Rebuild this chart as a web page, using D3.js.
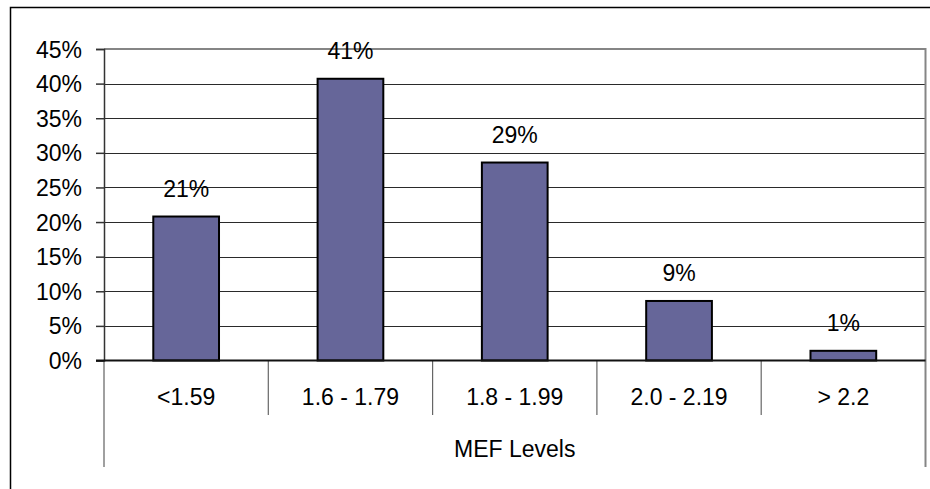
<!DOCTYPE html>
<html>
<head>
<meta charset="utf-8">
<script src="https://cdn.jsdelivr.net/npm/d3@7"></script>
<style>
  html, body { margin: 0; padding: 0; background: #fff; }
  svg { display: block; font-family: "Liberation Sans", Arial, sans-serif; }
</style>
</head>
<body>
<svg id="chart" width="930" height="489"></svg>
<script>
// Share of units in each MEF band
const categories = ["<1.59", "1.6 - 1.79", "1.8 - 1.99", "2.0 - 2.19", "> 2.2"];
const shares = [0.208, 0.407, 0.286, 0.086, 0.014];
const yTicks = [0, 0.05, 0.10, 0.15, 0.20, 0.25, 0.30, 0.35, 0.40, 0.45];
const axisTitle = "MEF Levels";

const svg = d3.select("#chart");
const plotLeft = 104, plotRight = 925.5, plotTop = 49, plotBottom = 360.5;
const fontSize = 23;

// Outer chart frame (runs off the right and bottom edges)
svg.append("rect")
  .attr("x", 10.5).attr("y", 7.5)
  .attr("width", 1000).attr("height", 1000)
  .attr("fill", "none").attr("stroke", "#000").attr("stroke-width", 1.5);

const y = d3.scaleLinear().domain([0, 0.45]).range([plotBottom, plotTop]);
const xBar = d3.scaleBand().domain(categories).range([plotLeft, plotRight])
  .paddingInner(0.6).paddingOuter(0.3);
const xCat = d3.scaleBand().domain(categories).range([plotLeft, plotRight]).padding(0);

// Horizontal gridlines
svg.append("g").selectAll("line")
  .data(yTicks.filter(t => t > 0 && t < 0.45))
  .join("line")
  .attr("x1", plotLeft).attr("x2", plotRight)
  .attr("y1", d => Math.round(y(d)) + 0.5).attr("y2", d => Math.round(y(d)) + 0.5)
  .attr("stroke", "#2a2a2a").attr("stroke-width", 1.2);

// Plot area border (top and right) plus its downward extension around the category table
svg.append("path")
  .attr("d", `M${plotLeft},${plotTop}H${plotRight}V467`)
  .attr("fill", "none").attr("stroke", "#858585").attr("stroke-width", 2);
svg.append("line")
  .attr("x1", plotLeft).attr("x2", plotLeft).attr("y1", plotBottom).attr("y2", 467)
  .attr("stroke", "#808080").attr("stroke-width", 1.5);

// Category divider ticks below the axis
svg.append("g").selectAll("line")
  .data(categories.slice(1))
  .join("line")
  .attr("x1", d => xCat(d)).attr("x2", d => xCat(d))
  .attr("y1", plotBottom).attr("y2", 415)
  .attr("stroke", "#666").attr("stroke-width", 1.2);

// Bars
svg.append("g").selectAll("rect")
  .data(shares)
  .join("rect")
  .attr("x", (d, i) => xBar(categories[i]))
  .attr("width", xBar.bandwidth())
  .attr("y", d => y(d))
  .attr("height", d => y(0) - y(d))
  .attr("fill", "#666699")
  .attr("stroke", "#000").attr("stroke-width", 2);

// Value axis: line, ticks and labels
const yAxis = d3.axisLeft(y).tickValues(yTicks).tickSize(8).tickPadding(14)
  .tickFormat(d3.format(".0%"));
const gy = svg.append("g").attr("transform", `translate(${plotLeft},0)`).call(yAxis);
gy.select(".domain").attr("stroke", "#333").attr("stroke-width", 1.5);
gy.selectAll(".tick line").attr("stroke", "#333").attr("stroke-width", 1.5);
gy.selectAll(".tick text")
  .attr("font-size", fontSize).attr("font-family", "'Liberation Sans', Arial, sans-serif")
  .attr("fill", "#000").attr("dy", "0.35em");

// Category axis baseline
svg.append("line")
  .attr("x1", plotLeft - 8).attr("x2", plotRight)
  .attr("y1", plotBottom).attr("y2", plotBottom)
  .attr("stroke", "#111").attr("stroke-width", 2);

// Category labels
svg.append("g").selectAll("text")
  .data(categories)
  .join("text")
  .attr("x", d => xCat(d) + xCat.bandwidth() / 2)
  .attr("y", 405)
  .attr("text-anchor", "middle")
  .attr("font-size", fontSize)
  .text(d => d);

// Axis title
svg.append("text")
  .attr("x", (plotLeft + plotRight) / 2).attr("y", 457)
  .attr("text-anchor", "middle")
  .attr("font-size", fontSize)
  .text(axisTitle);

// Value labels above bars
svg.append("g").selectAll("text")
  .data(shares)
  .join("text")
  .attr("x", (d, i) => xBar(categories[i]) + xBar.bandwidth() / 2)
  .attr("y", d => y(d) - 19.5)
  .attr("text-anchor", "middle")
  .attr("font-size", fontSize)
  .text(d => d3.format(".0%")(d));
</script>
</body>
</html>
